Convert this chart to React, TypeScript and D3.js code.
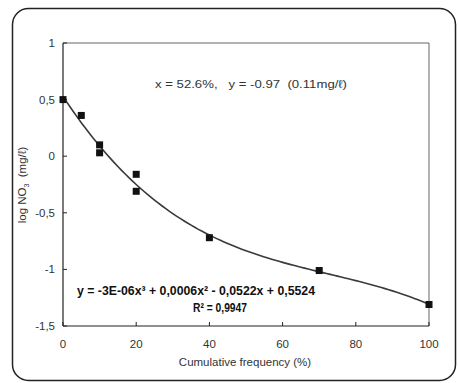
import React from "react";
import * as d3 from "d3";

const xs = [0, 5, 10, 10, 20, 20, 40, 70, 100];
const ys = [0.5, 0.36, 0.1, 0.03, -0.16, -0.31, -0.72, -1.01, -1.31];
const xTicks = [0, 20, 40, 60, 80, 100];
const yTicks = [1, 0.5, 0, -0.5, -1, -1.5];
const yTickLabels = ["1", "0,5", "0", "-0,5", "-1", "-1,5"];
const eqText = "y = -3E-06x³ + 0,0006x² - 0,0522x + 0,5524";
const r2Text = "R² = 0,9947";
const noteText = "x = 52.6%,   y = -0.97  (0.11mg/ℓ)";

function cubicFit(x: number[], y: number[]): number[] {
  const n = 4;
  const A: number[][] = Array.from({ length: n }, () => Array(n + 1).fill(0));
  for (let k = 0; k < x.length; k++) {
    const p = [1, x[k], x[k] ** 2, x[k] ** 3];
    for (let i = 0; i < n; i++) {
      for (let j = 0; j < n; j++) A[i][j] += p[i] * p[j];
      A[i][n] += p[i] * y[k];
    }
  }
  for (let i = 0; i < n; i++) {
    let m = i;
    for (let r = i + 1; r < n; r++) if (Math.abs(A[r][i]) > Math.abs(A[m][i])) m = r;
    [A[i], A[m]] = [A[m], A[i]];
    for (let r = 0; r < n; r++) {
      if (r === i) continue;
      const f = A[r][i] / A[i][i];
      for (let c = i; c <= n; c++) A[r][c] -= f * A[i][c];
    }
  }
  return A.map((row, i) => row[n] / row[i]);
}

export default function App() {
  const W = 458, H = 383;
  const left = 63, right = 429, top = 43, bottom = 326;
  const x = d3.scaleLinear().domain([0, 100]).range([left, right]);
  const y = d3.scaleLinear().domain([-1.5, 1]).range([bottom, top]);
  const c = cubicFit(xs, ys);
  const f = (t: number) => c[0] + c[1] * t + c[2] * t * t + c[3] * t * t * t;
  const curvePts: [number, number][] = d3.range(0, 100.01, 1).map((t) => [x(t), y(f(t))]);
  const line = d3.line().curve(d3.curveLinear)(curvePts) || "";
  const font = "'Liberation Sans', Arial, sans-serif";
  return (
    <svg width={W} height={H} style={{ position: "absolute", left: 0, top: 0 }}>
      <rect x={0} y={0} width={W} height={H} fill="#fff" />
      <rect x={12.5} y={8.5} width={443} height={372} rx={16} fill="#fff" stroke="#222" strokeWidth={1.5} />
      <line x1={left} x2={right} y1={top} y2={top} stroke="#666" strokeWidth={1} />
      <line x1={right} x2={right} y1={top} y2={bottom} stroke="#666" strokeWidth={1} />
      <line x1={left} x2={left} y1={top} y2={bottom} stroke="#222" strokeWidth={1.2} />
      <line x1={left} x2={right} y1={bottom} y2={bottom} stroke="#222" strokeWidth={1.2} />
      {xTicks.map((t) => (
        <g key={"x" + t}>
          <line x1={x(t)} x2={x(t)} y1={bottom} y2={bottom - 4} stroke="#222" />
          <text x={x(t)} y={348} textAnchor="middle" fontFamily={font} fontSize={11.5} fill="#333">
            {t}
          </text>
        </g>
      ))}
      {yTicks.map((t, i) => (
        <g key={"y" + t}>
          <line x1={left} x2={left + 4} y1={y(t)} y2={y(t)} stroke="#222" />
          <text x={55} y={y(t) + 4} textAnchor="end" fontFamily={font} fontSize={11.5} fill="#333">
            {yTickLabels[i]}
          </text>
        </g>
      ))}
      <path d={line} fill="none" stroke="#3a3a3a" strokeWidth={1.6} />
      {xs.map((v, i) => (
        <rect key={"p" + i} x={x(v) - 3.5} y={y(ys[i]) - 3.5} width={7} height={7} fill="#111" />
      ))}
      <text x={155} y={88} fontFamily={font} fontSize={11.5} fill="#333" textLength={192} lengthAdjust="spacingAndGlyphs" style={{ whiteSpace: "pre" }}>
        {noteText}
      </text>
      <rect x={74} y={282} width={246} height={32} fill="#fff" />
      <text x={77} y={295} fontFamily={font} fontSize={12} fontWeight="bold" fill="#111" textLength={238} lengthAdjust="spacingAndGlyphs">
        {eqText}
      </text>
      <text x={193} y={312} fontFamily={font} fontSize={12} fontWeight="bold" fill="#111" textLength={54} lengthAdjust="spacingAndGlyphs">
        {r2Text}
      </text>
      <text
        transform={`translate(26,185) rotate(-90)`}
        textAnchor="middle"
        fontFamily={font}
        fontSize={11.5}
        fill="#333"
        style={{ whiteSpace: "pre" }}
      >
        log NO<tspan fontSize={7} dy={3}>3</tspan>
        <tspan dy={-3}>  (mg/ℓ)</tspan>
      </text>
      <text x={245} y={366} textAnchor="middle" fontFamily={font} fontSize={11.5} fill="#333">
        Cumulative frequency (%)
      </text>
    </svg>
  );
}
